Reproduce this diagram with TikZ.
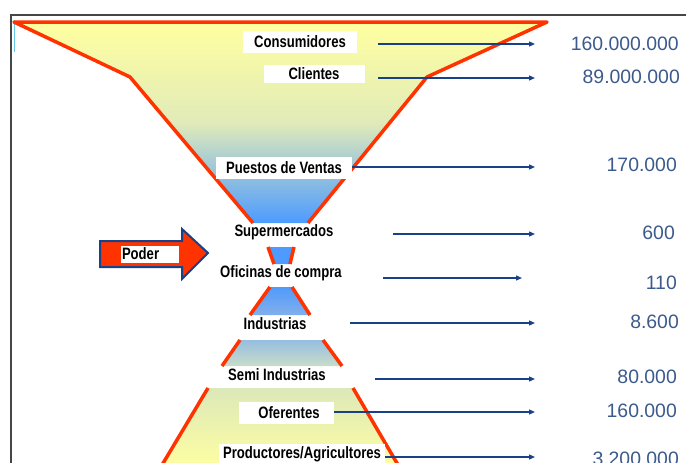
\documentclass[tikz,border=0pt]{standalone}
\usepackage{fontspec}
\usepackage{graphicx}
\setmainfont{Liberation Sans}
\usetikzlibrary{arrows.meta}
\definecolor{fred}{RGB}{255,51,0}
\definecolor{fyel}{RGB}{255,255,160}
\definecolor{fmid}{RGB}{225,235,185}
\definecolor{fblue}{RGB}{77,155,255}
\definecolor{navy}{RGB}{25,65,135}
\definecolor{numblue}{RGB}{60,90,140}
\definecolor{framegray}{RGB}{70,70,70}
\definecolor{cursorblue}{RGB}{100,200,235}
\newcommand{\lbt}[1]{\scalebox{0.97}[1.22]{#1}}
\begin{document}
\begin{tikzpicture}[x=1pt,y=-1pt,
  redside/.style={draw=fred,line width=3.5pt,line join=round},
  lbl/.style={font=\bfseries\fontsize{13.5}{14}\selectfont,inner sep=0pt},
  lblbox/.style={lbl,fill=white},
  num/.style={anchor=east,text=numblue,font=\fontsize{19.4}{20}\selectfont,inner sep=0pt},
  conn/.style={draw=navy,line width=1.3pt,-{Triangle[length=6pt,width=5pt]}}]
\useasboundingbox (0,0) rectangle (686,463);
\fill[white] (0,0) rectangle (686,463);
% frame
\draw[framegray,line width=1.2pt] (11,463) -- (11,15) -- (686,15);
\draw[cursorblue,line width=1pt] (14,20) -- (14,52);
% upper funnel
\path[top color=fyel,bottom color=fblue,middle color=fmid]
  (14,22) -- (547,22) -- (427,77) -- (308,223) -- (253,223) -- (130,77) -- cycle;
\draw[redside] (253,223) -- (130,77) -- (14,22) -- (547,22) -- (427,77) -- (308,223);
% segment 2
\fill[fblue] (268,247) -- (294,247) -- (290,264) -- (274,264) -- cycle;
\draw[redside] (268,247) -- (274,264) (294,247) -- (290,264);
% segment 3
\path[top color={rgb,255:red,80;green,155;blue,250},bottom color={rgb,255:red,130;green,175;blue,235}]
  (270,287) -- (292,287) -- (310,315) -- (250,315) -- cycle;
\draw[redside] (270,287) -- (250,315) (292,287) -- (310,315);
% segment 4
\path[top color={rgb,255:red,150;green,190;blue,225},bottom color={rgb,255:red,200;green,220;blue,200}]
  (240,340) -- (323,340) -- (342,366) -- (222,366) -- cycle;
\draw[redside] (240,340) -- (222,366) (323,340) -- (342,366);
% segment 5
\begin{scope}
\clip (0,0) rectangle (686,463);
\path[top color={rgb,255:red,220;green,232;blue,185},bottom color=fyel]
  (208,388) -- (353,388) -- (401,470) -- (159,470) -- cycle;
\draw[redside] (208,388) -- (159,470) (353,388) -- (401,470);
\end{scope}
% labels
\node[lblbox,minimum width=114pt,minimum height=22pt] (cons) at (300,42) {\lbt{Consumidores}};
\node[lblbox,minimum width=101pt,minimum height=18pt] (cli) at (314,74) {\lbt{Clientes}};
\node[lblbox,minimum width=136pt,minimum height=22pt] (pue) at (284,168) {\lbt{Puestos de Ventas}};
\node[lbl] (sup) at (284,232) {\lbt{Supermercados}};
\node[lbl] (ofi) at (281,273) {\lbt{Oficinas de compra}};
\node[lbl] (ind) at (275,324) {\lbt{Industrias}};
\node[lbl] (semi) at (277,375) {\lbt{Semi Industrias}};
\node[lblbox,minimum width=95pt,minimum height=22pt] (ofe) at (286,413) {\hspace*{6pt}\lbt{Oferentes}};
\node[lblbox,minimum width=166pt,minimum height=20pt] (pro) at (302,454) {\lbt{Productores/Agricultores}};
% numbers
\node[num] (n1) at (679,44) {160.000.000};
\node[num] (n2) at (680,77) {89.000.000};
\node[num] (n3) at (677,165) {170.000};
\node[num] (n4) at (675,233) {600};
\node[num] (n5) at (677,283) {110};
\node[num] (n6) at (679,322) {8.600};
\node[num] (n7) at (677,377) {80.000};
\node[num] (n8) at (677,411) {160.000};
\node[num] (n9) at (679,459) {3.200.000};
% connectors
\coordinate (s1) at (378,44);  \coordinate (e1) at (535,44);
\coordinate (s2) at (378,78);  \coordinate (e2) at (535,78);
\coordinate (s3) at (352,167); \coordinate (e3) at (535,167);
\coordinate (s4) at (393,234); \coordinate (e4) at (535,234);
\coordinate (s5) at (383,278); \coordinate (e5) at (522,278);
\coordinate (s6) at (350,323); \coordinate (e6) at (535,323);
\coordinate (s7) at (375,379); \coordinate (e7) at (535,379);
\coordinate (s8) at (334,412); \coordinate (e8) at (535,412);
\coordinate (s9) at (385,457); \coordinate (e9) at (535,457);
\foreach \i in {1,...,9} {\draw[conn] (s\i) -- (e\i);}
% Poder arrow
\draw[fill=fred,draw=navy,line width=2pt,line join=miter]
  (100,241) -- (182,241) -- (182,229) -- (208,253) -- (182,279) -- (182,267) -- (100,267) -- cycle;
\node[lblbox,minimum width=58pt,minimum height=17pt,align=left,text width=56pt,inner xsep=1pt] (poder) at (150,254) {\lbt{Poder}};
\end{tikzpicture}
\end{document}
